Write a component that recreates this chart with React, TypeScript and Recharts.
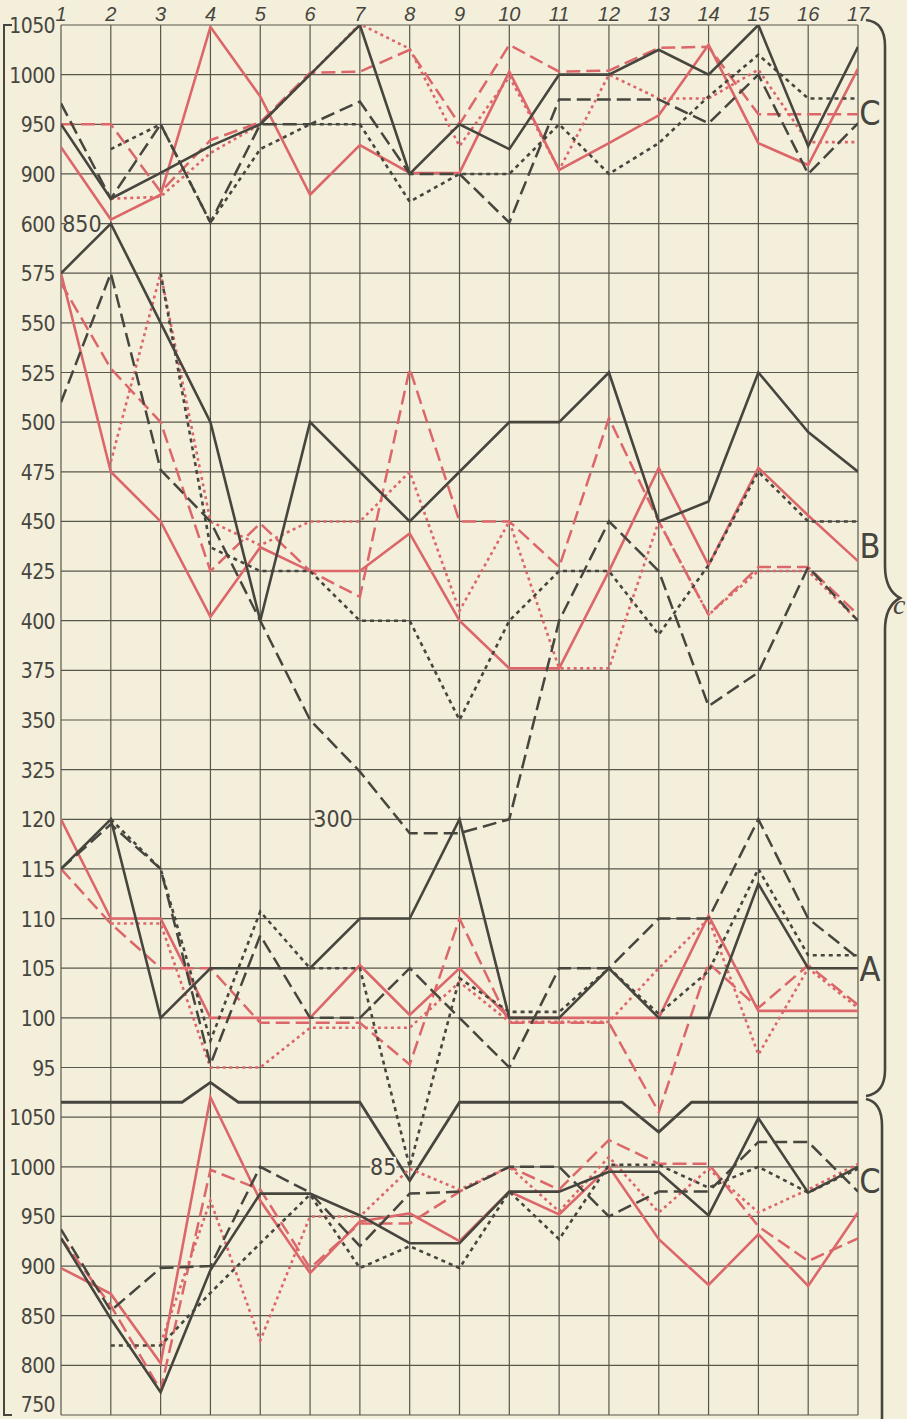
import React from 'react';
import { LineChart, Line, XAxis, YAxis, CartesianGrid, ReferenceDot } from 'recharts';

// columns 1..17 across the top
const DAYS = [1, 2, 3, 4, 5, 6, 7, 8, 9, 10, 11, 12, 13, 14, 15, 16, 17];

// left-hand scale, one label per grid row (four stacked scales)
const ROW_LABELS = [
  '1050', '1000', '950', '900',
  '600', '575', '550', '525', '500', '475', '450', '425', '400', '375', '350', '325',
  '120', '115', '110', '105', '100', '95',
  '1050', '1000', '950', '900', '850', '800', '750',
];
const ROW_TICKS = ROW_LABELS.map((_, i) => i);

// each panel gets its own hidden axis, domains chosen so they share the 28 rows
const TOP_C_DOMAIN = [-350, 1050];
const B_DOMAIN = [0, 700];
const A_DOMAIN = [60, 200];
const BOTTOM_C_DOMAIN = [750, 2150];

// upper C
const topBlackSolid = [950, 875, 901, 928, 950, 1000, 1050, 900, 950, 925, 1000, 1000, 1025, 1000, 1050, 928, 1028];
const topBlackDashed = [971, 875, 950, 851, 950, 950, 973, 900, 900, 851, 975, 975, 975, 951, 1000, 900, 951];
const topBlackDotted = [null, 925, 950, 851, 925, 950, 950, 872, 900, 900, 950, 900, 931, 978, 1020, 976, 976];
const topRedSolid = [927, 854, 879, 1048, 978, 879, 929, 901, 901, 1003, 904, 931, 959, 1030, 931, 909, 1006];
const topRedDashed = [950, 950, 882, 934, 952, 1002, 1003, 1025, 950, 1030, 1003, 1004, 1027, 1028, 960, 960, 960];
const topRedDotted = [null, 875, 877, 921, 950, 1000, 1051, 1026, 928, 998, 904, 1000, 976, 976, 1005, 932, 932];

// B
const bBlackSolid = [575, 600, 550, 500, 400, 500, 475, 450, 475, 500, 500, 525, 450, 460, 525, 495, 475];
const bBlackDashed = [510, 575, 476, 450, 400, 350, 324, 293, 293, 300, 400, 450, 425, 357, 374, 427, 400];
const bBlackDotted = [null, null, 575, 437, 425, 425, 400, 400, 350, 400, 425, 425, 393, 428, 475, 450, 450];
const bRedSolid = [575, 475, 450, 402, 437, 425, 425, 444, 400, 376, 376, 425, 477, 428, 477, 453, 430];
const bRedDashed = [570, 527, 500, 425, 449, 425, 412, 527, 450, 450, 427, 502, 450, 403, 427, 427, 403];
const bRedDotted = [null, 480, 575, 450, 438, 450, 450, 475, 405, 450, 376, 376, 450, 403, 425, 425, 400];

// A
const aBlackSolid = [115, 120, 100, 105, 105, 105, 110, 110, 120, 100, 100, 105, 100, 100, 113.5, 105, 105];
const aBlackDashed = [115, 119.5, 115, 95.3, 108.3, 100, 100, 105, 100, 95, 105, 105, 110, 110, 120, 110, 106];
const aBlackDotted = [null, 120, 115, 97.7, 110.7, 105, 105, 85, 104, 100.6, 100.6, 105, 100.4, 104.7, 115, 106.3, 106.3];
const aRedSolid = [120, 110, 110, 100, 100, 100, 105.3, 100.3, 105, 100, 100, 100, 100, 110.3, 100.7, 100.7, 100.7];
const aRedDashed = [115, 109.5, 105, 105, 99.5, 99.5, 99.5, 95.3, 110, 99.5, 99.5, 99.5, 90.5, 105.5, 101, 105.3, 101.3];
const aRedDotted = [null, 109.5, 109.5, 95, 95, 99, 99, 99, 103.6, 99.6, 99.6, 99.6, 105, 110, 96.3, 105, 101];

// lower C
const cBlackSolid = [928, 847, 773, 896, 973, 973, 951, 923, 923, 975, 975, 995, 995, 951, 1049, 974, 1000];
const cBlackDashed = [937, 855, 898, 900, 1000, 974, 920, 973, 975, 1000, 1000, 950, 975, 975, 1025, 1025, 975];
const cBlackDotted = [null, 820, 820, 873, 923, 972, 898, 920, 898, 975, 927, 1002, 1002, 979, 1000, 974, 998];
const cRedSolid = [898, 872, 802, 1070, 966, 893, 945, 953, 925, 975, 952, 1000, 927, 881, 932, 880, 954];
const cRedDashed = [928, 860, 775, 997, 977, 898, 943, 943, 975, 1000, 977, 1027, 1003, 1003, 940, 905, 928];
const cRedDotted = [null, null, 822, 966, 825, 950, 950, 998, 977, 1000, 955, 1010, 954, 998, 954, 977, 1003];

// the heavy line above lower C, its corners fall between columns
const NOTCH_X = [1, 3.43, 4, 4.56, 7, 8, 9, 12.26, 13, 13.66, 17];
const NOTCH_VALUES = [1065, 1065, 1085, 1065, 1065, 986, 1065, 1065, 1035, 1065, 1065];

const PAPER = '#f4efdb';
const INK = '#46463f';
const RED = '#dc676a';
const NARROW = '"Liberation Sans Narrow", "DejaVu Sans Condensed", sans-serif';

const STYLES: Record<string, { width: number; dash?: string }> = {
  solid: { width: 2.6 },
  dashed: { width: 2.5, dash: '14 6' },
  dotted: { width: 2.6, dash: '4 4' },
  redDotted: { width: 2.6, dash: '3 3.5' },
};

const SERIES = [
  { key: 'topRedSolid', axis: 'topC', color: RED, style: 'solid', values: topRedSolid },
  { key: 'topRedDashed', axis: 'topC', color: RED, style: 'dashed', values: topRedDashed },
  { key: 'topRedDotted', axis: 'topC', color: RED, style: 'redDotted', values: topRedDotted },
  { key: 'topBlackSolid', axis: 'topC', color: INK, style: 'solid', values: topBlackSolid },
  { key: 'topBlackDashed', axis: 'topC', color: INK, style: 'dashed', values: topBlackDashed },
  { key: 'topBlackDotted', axis: 'topC', color: INK, style: 'dotted', values: topBlackDotted },
  { key: 'bRedSolid', axis: 'B', color: RED, style: 'solid', values: bRedSolid },
  { key: 'bRedDashed', axis: 'B', color: RED, style: 'dashed', values: bRedDashed },
  { key: 'bRedDotted', axis: 'B', color: RED, style: 'redDotted', values: bRedDotted },
  { key: 'bBlackSolid', axis: 'B', color: INK, style: 'solid', values: bBlackSolid },
  { key: 'bBlackDashed', axis: 'B', color: INK, style: 'dashed', values: bBlackDashed },
  { key: 'bBlackDotted', axis: 'B', color: INK, style: 'dotted', values: bBlackDotted },
  { key: 'aRedSolid', axis: 'A', color: RED, style: 'solid', values: aRedSolid },
  { key: 'aRedDashed', axis: 'A', color: RED, style: 'dashed', values: aRedDashed },
  { key: 'aRedDotted', axis: 'A', color: RED, style: 'redDotted', values: aRedDotted },
  { key: 'aBlackSolid', axis: 'A', color: INK, style: 'solid', values: aBlackSolid },
  { key: 'aBlackDashed', axis: 'A', color: INK, style: 'dashed', values: aBlackDashed },
  { key: 'aBlackDotted', axis: 'A', color: INK, style: 'dotted', values: aBlackDotted },
  { key: 'cRedSolid', axis: 'botC', color: RED, style: 'solid', values: cRedSolid },
  { key: 'cRedDashed', axis: 'botC', color: RED, style: 'dashed', values: cRedDashed },
  { key: 'cRedDotted', axis: 'botC', color: RED, style: 'redDotted', values: cRedDotted },
  { key: 'cBlackSolid', axis: 'botC', color: INK, style: 'solid', values: cBlackSolid },
  { key: 'cBlackDashed', axis: 'botC', color: INK, style: 'dashed', values: cBlackDashed },
  { key: 'cBlackDotted', axis: 'botC', color: INK, style: 'dotted', values: cBlackDotted },
];

const data = DAYS.map((x, i) => {
  const row: Record<string, number | null> = { x };
  SERIES.forEach((s) => {
    row[s.key] = s.values[i];
  });
  return row;
});

const notchData = NOTCH_X.map((x, i) => ({ x, v: NOTCH_VALUES[i] }));

// number written on the grid with a patch of paper behind it
const Patch = (props: any) => {
  const { cx, cy, text, w } = props;
  return (
    <g>
      <rect x={cx - w / 2} y={cy - 10} width={w} height={20} fill={PAPER} />
      <text x={cx} y={cy + 8} textAnchor="middle" fill={INK} fontSize={23} fontFamily={NARROW}>
        {text}
      </text>
    </g>
  );
};

// left scale; the last label sits on the bottom edge so lift it to stay inside
const RowTick = (props: any) => {
  const { x, y, payload } = props;
  const last = payload.value === ROW_TICKS.length - 1;
  return (
    <text
      x={x}
      y={y}
      dy={last ? -3 : 8}
      textAnchor="end"
      fill={INK}
      fontSize={21}
      letterSpacing={-0.6}
      fontFamily={NARROW}
    >
      {ROW_LABELS[payload.value]}
    </text>
  );
};

export default function App() {
  return (
    <div style={{ position: 'absolute', left: 0, top: 0, width: 907, height: 1419, background: PAPER, overflow: 'hidden' }}>
      <LineChart width={907} height={1419} data={data} margin={{ top: 0, right: 49, bottom: 4, left: 0 }}>
        <CartesianGrid stroke="#57574c" strokeWidth={1.2} fill="none" />
        <XAxis
          dataKey="x"
          type="number"
          domain={[1, 17]}
          ticks={DAYS}
          interval={0}
          allowDataOverflow
          orientation="top"
          height={25}
          axisLine={false}
          tickLine={false}
          tickSize={0}
          tickMargin={4}
          tick={{ fill: INK, fontSize: 20, fontStyle: 'italic', fontFamily: '"Liberation Sans", sans-serif' }}
        />
        <YAxis
          type="number"
          domain={[0, 28]}
          reversed
          allowDataOverflow
          ticks={ROW_TICKS}
          interval={0}
          width={61}
          axisLine={false}
          tickLine={false}
          tickSize={4}
          tickMargin={2}
          tick={<RowTick />}
        />
        <YAxis yAxisId="topC" type="number" domain={TOP_C_DOMAIN} allowDataOverflow hide />
        <YAxis yAxisId="B" type="number" domain={B_DOMAIN} allowDataOverflow hide />
        <YAxis yAxisId="A" type="number" domain={A_DOMAIN} allowDataOverflow hide />
        <YAxis yAxisId="botC" type="number" domain={BOTTOM_C_DOMAIN} allowDataOverflow hide />

        <Line
          data={notchData}
          dataKey="v"
          yAxisId="botC"
          type="linear"
          stroke={INK}
          strokeWidth={2.8}
          dot={false}
          isAnimationActive={false}
        />
        {SERIES.map((s) => (
          <Line
            key={s.key}
            dataKey={s.key}
            yAxisId={s.axis}
            type="linear"
            stroke={s.color}
            strokeWidth={STYLES[s.style].width}
            strokeDasharray={STYLES[s.style].dash}
            strokeLinejoin="miter"
            dot={false}
            isAnimationActive={false}
          />
        ))}

        <ReferenceDot x={1.42} y={850} yAxisId="topC" r={0} shape={(p: any) => <Patch {...p} text="850" w={34} />} />
        <ReferenceDot x={6.46} y={300} yAxisId="B" r={0} shape={(p: any) => <Patch {...p} text="300" w={36} />} />
        <ReferenceDot x={7.47} y={85} yAxisId="A" r={0} shape={(p: any) => <Patch {...p} text="85" w={26} />} />
      </LineChart>

      <svg width={907} height={1419} style={{ position: 'absolute', left: 0, top: 0, pointerEvents: 'none' }}>
        <path d="M 12 25 L 4 25 L 4 1415 L 12 1415" stroke={INK} strokeWidth={2} fill="none" />
        <path
          d="M 866 20 Q 885 22 885 46 L 885 566 Q 885 590 900 598 Q 885 606 885 630 L 885 1070 Q 885 1093 866 1096"
          stroke={INK}
          strokeWidth={2.6}
          fill="none"
        />
        <path d="M 866 1099 Q 882 1102 882 1126 L 882 1419" stroke={INK} strokeWidth={2.6} fill="none" />
        <g fill={INK} fontFamily={NARROW} fontSize={34} textAnchor="middle">
          <text x={870} y={125}>C</text>
          <text x={870} y={558}>B</text>
          <text x={870} y={981}>A</text>
          <text x={870} y={1193}>C</text>
        </g>
        <text x={893} y={614} fill={INK} fontSize={28} fontStyle="italic" fontFamily='"Liberation Serif", serif'>c</text>
      </svg>
    </div>
  );
}
